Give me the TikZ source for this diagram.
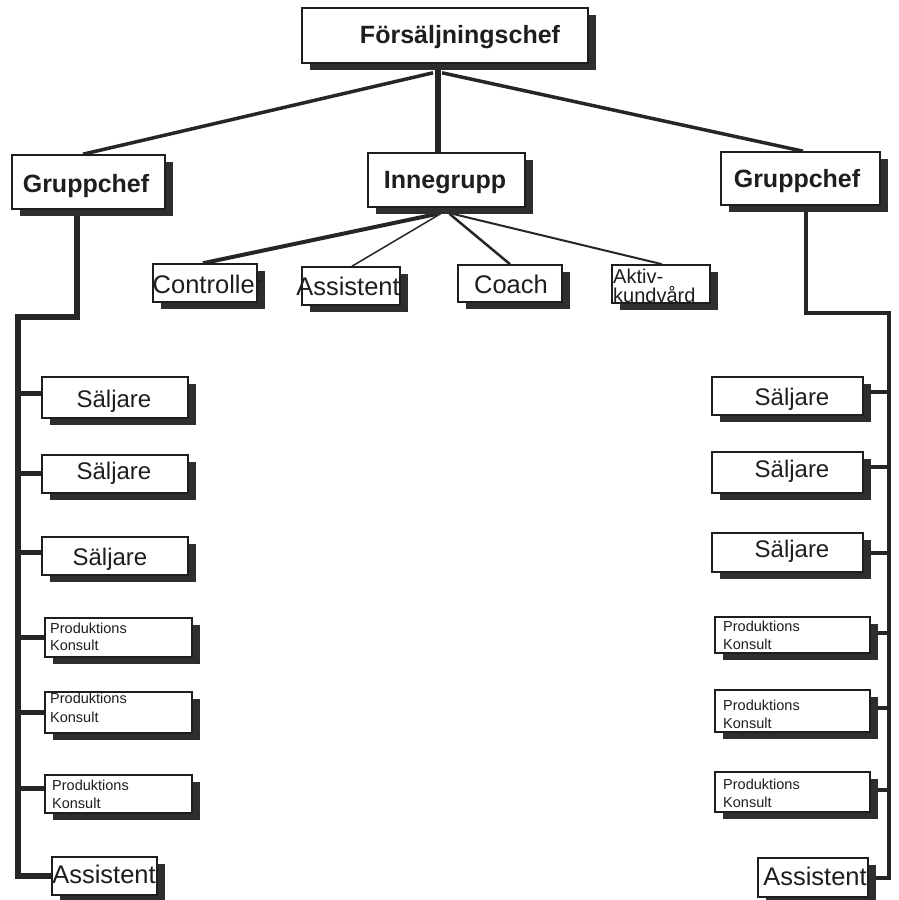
\documentclass[tikz,border=0pt]{standalone}
\usepackage{fontspec}
\setmainfont{Liberation Sans}
\usetikzlibrary{shadows,backgrounds,calc}

\definecolor{ink}{HTML}{1E1E1E}
\definecolor{linegray}{HTML}{262626}
\definecolor{shade}{HTML}{2E2E2E}

\tikzset{
  orgbox/.style={rectangle, draw=ink, line width=1.6pt, fill=white, inner sep=0pt,
    drop shadow={shadow xshift=8pt, shadow yshift=-7pt, fill=shade, opacity=1}},
  headtext/.style={font=\fontsize{25}{25}\selectfont\bfseries, text=ink, inner sep=0pt, anchor=base},
  bodytext/.style={font=\fontsize{24}{24}\selectfont, text=ink, inner sep=0pt, anchor=base},
  bigtext/.style={font=\fontsize{25.5}{25.5}\selectfont, text=ink, inner sep=0pt, anchor=base},
  akttext/.style={font=\fontsize{20}{20}\selectfont, text=ink, inner sep=0pt, anchor=base west},
  smalltext/.style={font=\fontsize{14.5}{17}\selectfont, text=ink, inner sep=0pt, anchor=base west},
  wire/.style={draw=linegray, line cap=butt, line join=miter},
}

% box from (x1,y1) to (x2,y2), y measured downwards
\newcommand\orgbox[5]{%
  \node[orgbox, minimum width={(#4)-(#2)}, minimum height={(#5)-(#3)}]
    (#1) at ({((#2)+(#4))/2},{((#3)+(#5))/2}) {};}

\begin{document}
\begin{tikzpicture}[x=1pt,y=-1pt]
\useasboundingbox (0,0) rectangle (899,900);

% ---- boxes ----
\orgbox{fc}{302}{8}{588}{63}
\orgbox{lg}{12}{155}{165}{209}
\orgbox{inne}{368}{153}{525}{207}
\orgbox{rg}{721}{152}{880}{205}

\orgbox{ctl}{153}{264}{257}{302}
\orgbox{ias}{302}{267}{400}{305}
\orgbox{coa}{458}{265}{562}{302}
\orgbox{akt}{612}{265}{710}{303}

\orgbox{ls1}{42}{377}{188}{418}
\orgbox{ls2}{42}{455}{188}{493}
\orgbox{ls3}{42}{537}{188}{575}
\orgbox{lp1}{45}{618}{192}{657}
\orgbox{lp2}{45}{692}{192}{733}
\orgbox{lp3}{45}{775}{192}{813}
\orgbox{la}{52}{857}{157}{895}

\orgbox{rs1}{712}{377}{863}{415}
\orgbox{rs2}{712}{452}{863}{493}
\orgbox{rs3}{712}{533}{863}{572}
\orgbox{rp1}{715}{617}{870}{653}
\orgbox{rp2}{715}{690}{870}{732}
\orgbox{rp3}{715}{772}{870}{812}
\orgbox{ra}{758}{858}{868}{897}

% ---- labels ----
\node[headtext] (fc-t) at (460,43) {Försäljningschef};
\node[headtext] (lg-t) at (86,192) {Gruppchef};
\node[headtext] (inne-t) at (445,188) {Innegrupp};
\node[headtext] (rg-t) at (797,187) {Gruppchef};

\node[bigtext] (ctl-t) at (208,293) {Controller};
\node[bigtext] (ias-t) at (348,295) {Assistent};
\node[bigtext] (coa-t) at (511,293) {Coach};
\node[akttext] (akt-t1) at (613,283) {Aktiv-};
\node[akttext] (akt-t2) at (613,302) {kundvård};

\node[bodytext] (ls1-t) at (114,407) {Säljare};
\node[bodytext] (ls2-t) at (114,479) {Säljare};
\node[bodytext] (ls3-t) at (110,565) {Säljare};
\node[smalltext] (lp1-a) at (50,633) {Produktions};
\node[smalltext] (lp1-b) at (50,650) {Konsult};
\node[smalltext] (lp2-a) at (50,703) {Produktions};
\node[smalltext] (lp2-b) at (50,722) {Konsult};
\node[smalltext] (lp3-a) at (52,790) {Produktions};
\node[smalltext] (lp3-b) at (52,808) {Konsult};
\node[bigtext] (la-t) at (104,883) {Assistent};

\node[bodytext] (rs1-t) at (792,405) {Säljare};
\node[bodytext] (rs2-t) at (792,477) {Säljare};
\node[bodytext] (rs3-t) at (792,557) {Säljare};
\node[smalltext] (rp1-a) at (723,631) {Produktions};
\node[smalltext] (rp1-b) at (723,649) {Konsult};
\node[smalltext] (rp2-a) at (723,710) {Produktions};
\node[smalltext] (rp2-b) at (723,728) {Konsult};
\node[smalltext] (rp3-a) at (723,789) {Produktions};
\node[smalltext] (rp3-b) at (723,807) {Konsult};
\node[bigtext] (ra-t) at (815,885) {Assistent};

% ---- connectors, kept behind the boxes ----
\coordinate (lspine) at (18,317);
\coordinate (rspine) at (889,313);

\begin{pgfonlayer}{background}
  % top level
  \draw[wire, line width=6pt] ([xshift=-7pt]fc.south) -- ([xshift=-7pt]fc.south |- inne.north);
  \draw[wire, line width=3.5pt] ([xshift=-12pt,yshift=-9pt]fc.south) -- ([xshift=-5.5pt]lg.north);
  \draw[wire, line width=3.5pt] ([xshift=-3pt,yshift=-9pt]fc.south) -- ([xshift=2.5pt]rg.north);

  % inner group
  \draw[wire, line width=4pt] ([xshift=-9pt,yshift=-6pt]inne.south) -- ([xshift=-2pt]ctl.north);
  \draw[wire, line width=1.5pt] ([xshift=-6pt,yshift=-6pt]inne.south) -- ([xshift=1pt]ias.north);
  \draw[wire, line width=2.5pt] ([xshift=3pt,yshift=-6pt]inne.south) -- (coa.north);
  \draw[wire, line width=2pt] ([xshift=6pt,yshift=-6pt]inne.south) -- ([xshift=1pt]akt.north);

  % left group
  \draw[wire, line width=6pt] ([xshift=-11.5pt]lg.south) |- (lspine) |- (la.west);
  \foreach \b/\dy in {ls1/4.5, ls2/1, ls3/4, lp1/0, lp2/0, lp3/6}
    \draw[wire, line width=5pt] ([yshift=\dy pt]\b.west) -- ([yshift=\dy pt]\b.west -| lspine);

  % right group
  \draw[wire, line width=4pt] ([xshift=5.5pt]rg.south) |- (rspine) |- (ra.east);
  \foreach \b/\dy in {rs1/4, rs2/5.5, rs3/0, rp1/2, rp2/3, rp3/2}
    \draw[wire, line width=4pt] ([yshift=\dy pt]\b.east) -- ([yshift=\dy pt]\b.east -| rspine);
\end{pgfonlayer}
\end{tikzpicture}
\end{document}
